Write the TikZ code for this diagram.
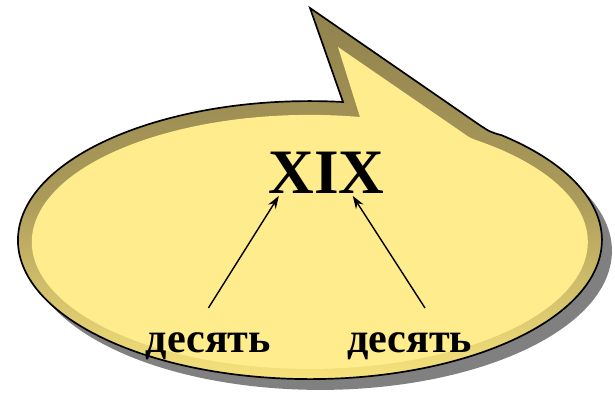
\documentclass[tikz,border=0pt]{standalone}
\usepackage{fontspec}
\setmainfont{Liberation Serif}
\usetikzlibrary{arrows.meta}
\definecolor{bubblefill}{RGB}{255,236,140}
\definecolor{bubbleband}{RGB}{145,130,78}
\definecolor{bubblelight}{RGB}{250,230,125}
\definecolor{bubbleshadow}{RGB}{128,128,128}

\begin{document}
\begin{tikzpicture}[every node/.style={inner sep=0pt}, pointer/.style={-{Stealth[length=3.2mm,width=2.2mm]}, line width=1pt}]
	\useasboundingbox (0,0) rectangle (15.375,9.875);
	\fill[bubbleshadow, shift={(0.25,-0.27)}] (8.575,7.325) arc[start angle=83.5, end angle=409, x radius=7.3, y radius=3.475] .. controls (12.25,6.575) .. (11.93,6.79) -- (7.75,9.675) -- cycle;
	\draw[line width=1.2pt, top color=bubbleband, bottom color=bubblelight, middle color=bubbleband!75!bubblelight] (8.575,7.325) arc[start angle=83.5, end angle=409, x radius=7.3, y radius=3.475] .. controls (12.25,6.575) .. (11.93,6.79) -- (7.75,9.675) -- cycle;
	\fill[bubblefill] (9,6.95) arc[start angle=79.6, end angle=412, x radius=6.95, y radius=3.175] .. controls (11.75,6.425) .. (11.49,6.61) -- (8.45,8.7) -- cycle;
	\node[font=\bfseries\fontsize{45}{50}\selectfont, anchor=base] (num) at (8.16,5.025) {XIX};
	\node[font=\bfseries\fontsize{30}{34}\selectfont, anchor=base] (tenL) at (5.21,1.05) {десять};
	\node[font=\bfseries\fontsize{30}{34}\selectfont, anchor=base] (tenR) at (10.24,1.05) {десять};
	\draw[pointer] ([yshift=11.25mm]tenL.base) -- ([xshift=-11.9mm, yshift=-0.5mm]num.base);
	\draw[pointer] ([xshift=3.85mm, yshift=11.25mm]tenR.base) -- ([xshift=6.6mm, yshift=-0.5mm]num.base);
\end{tikzpicture}
\end{document}
